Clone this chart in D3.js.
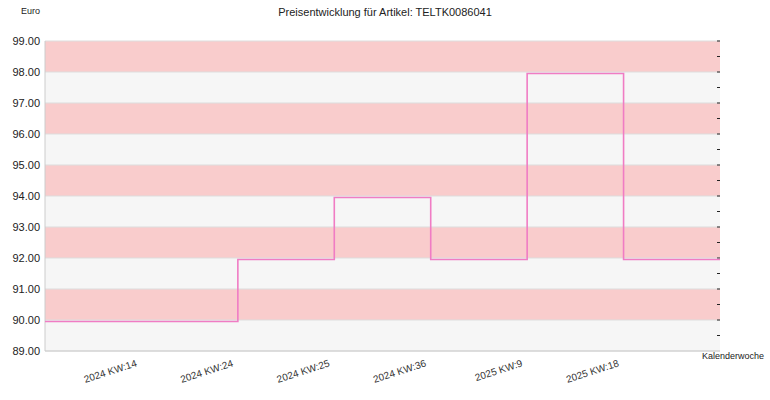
<!DOCTYPE html>
<html><head><meta charset="utf-8">
<script src="https://cdn.jsdelivr.net/npm/d3@7"></script>
<style>body{margin:0;background:#fff}text{font-family:"Liberation Sans",Arial,sans-serif}</style>
</head><body>
<script>
const weeks = ["2024 KW:14", "2024 KW:24", "2024 KW:25", "2024 KW:36", "2025 KW:9", "2025 KW:18"];
const prices = [89.95, 91.95, 93.95, 91.95, 97.95, 91.95];
const yTicks = [89, 90, 91, 92, 93, 94, 95, 96, 97, 98, 99];

const W = 770, H = 400;
const plotLeft = 45, plotRight = 720, plotTop = 41, plotBottom = 351;

const svg = d3.select("body").append("svg").attr("width", W).attr("height", H);

const x = d3.scaleLinear().domain([-1, weeks.length]).range([plotLeft, plotRight]);
const y = d3.scaleLinear().domain([89, 99]).range([plotBottom, plotTop]);

// bands
svg.selectAll("rect.band")
    .data(yTicks.slice(0, -1))
    .enter().append("rect")
    .attr("x", plotLeft).attr("width", plotRight - plotLeft)
    .attr("y", d => y(d + 1)).attr("height", d => y(d) - y(d + 1))
    .attr("fill", (d, i) => i % 2 ? "#f9cccc" : "#f6f6f6");

svg.selectAll("line.grid")
    .data(yTicks)
    .enter().append("line")
    .attr("x1", plotLeft).attr("x2", plotRight)
    .attr("y1", d => y(d)).attr("y2", d => y(d))
    .attr("stroke", "#dddddd");

svg.append("line").attr("x1", plotLeft).attr("x2", plotLeft).attr("y1", plotTop).attr("y2", plotBottom).attr("stroke", "#cccccc");
svg.append("line").attr("x1", plotLeft).attr("x2", plotRight).attr("y1", plotBottom).attr("y2", plotBottom).attr("stroke", "#cccccc");

// y labels
svg.selectAll("text.yl")
    .data(yTicks)
    .enter().append("text")
    .attr("x", 40).attr("y", d => y(d) + 4)
    .attr("text-anchor", "end").attr("font-size", 11).attr("fill", "#222")
    .text(d => d.toFixed(2));

// right ticks
const rTicks = d3.range(89.5, 99.01, 0.5);
svg.selectAll("line.rt")
    .data(rTicks)
    .enter().append("line")
    .attr("x1", plotRight - 3).attr("x2", plotRight)
    .attr("y1", d => y(d)).attr("y2", d => y(d))
    .attr("stroke", "#222");

// x labels
svg.selectAll("text.xl")
    .data(weeks)
    .enter().append("text")
    .attr("transform", (d, i) => "translate(" + (x(i) - 4) + ",366) rotate(-18)")
    .attr("text-anchor", "end").attr("font-size", 10).attr("fill", "#333")
    .text(d => d);

// step line
const pts = [[x(-1), prices[0]]]
    .concat(prices.map((p, i) => [x(i), p]))
    .concat([[x(weeks.length), prices[prices.length - 1]]]);
svg.append("path")
    .datum(pts)
    .attr("fill", "none").attr("stroke", "#f07cc4").attr("stroke-width", 1.6)
    .attr("d", d3.line().x(d => d[0]).y(d => y(d[1])).curve(d3.curveStepAfter));

svg.append("text").attr("x", 385).attr("y", 16).attr("text-anchor", "middle")
    .attr("font-size", 11).attr("fill", "#222").text("Preisentwicklung für Artikel: TELTK0086041");
svg.append("text").attr("x", 21).attr("y", 14).attr("font-size", 9).attr("fill", "#222").text("Euro");
svg.append("text").attr("x", 764).attr("y", 359).attr("text-anchor", "end")
    .attr("font-size", 9).attr("fill", "#222").text("Kalenderwoche");
</script>
</body></html>
